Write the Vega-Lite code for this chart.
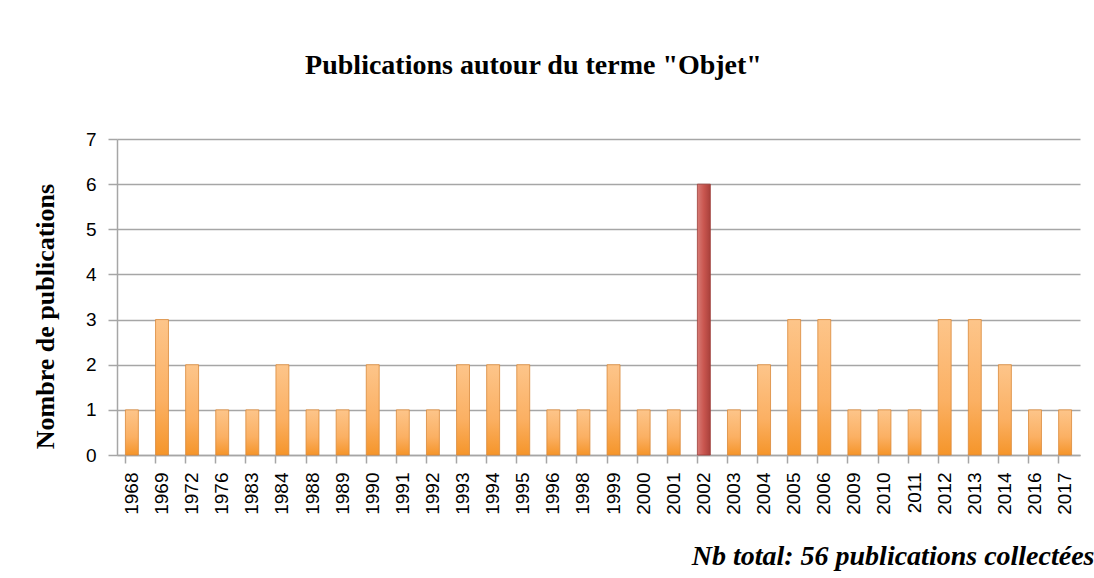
{
  "$schema": "https://vega.github.io/schema/vega-lite/v6.json",
  "width": 963,
  "height": 316,
  "autosize": {"type": "none"},
  "padding": {"left": 117, "top": 139, "right": 14, "bottom": 123},
  "background": "white",
  "title": {
    "text": "Publications autour du terme \"Objet\"",
    "font": "Liberation Serif",
    "fontSize": 28,
    "fontWeight": "bold",
    "color": "black",
    "anchor": "middle",
    "dx": -65,
    "offset": 50
  },
  "data": {
    "values": [
      {"year": "1968", "count": 1},
      {"year": "1969", "count": 3},
      {"year": "1972", "count": 2},
      {"year": "1976", "count": 1},
      {"year": "1983", "count": 1},
      {"year": "1984", "count": 2},
      {"year": "1988", "count": 1},
      {"year": "1989", "count": 1},
      {"year": "1990", "count": 2},
      {"year": "1991", "count": 1},
      {"year": "1992", "count": 1},
      {"year": "1993", "count": 2},
      {"year": "1994", "count": 2},
      {"year": "1995", "count": 2},
      {"year": "1996", "count": 1},
      {"year": "1998", "count": 1},
      {"year": "1999", "count": 2},
      {"year": "2000", "count": 1},
      {"year": "2001", "count": 1},
      {"year": "2002", "count": 6},
      {"year": "2003", "count": 1},
      {"year": "2004", "count": 2},
      {"year": "2005", "count": 3},
      {"year": "2006", "count": 3},
      {"year": "2009", "count": 1},
      {"year": "2010", "count": 1},
      {"year": "2011", "count": 1},
      {"year": "2012", "count": 3},
      {"year": "2013", "count": 3},
      {"year": "2014", "count": 2},
      {"year": "2016", "count": 1},
      {"year": "2017", "count": 1}
    ]
  },
  "mark": {"type": "bar", "strokeWidth": 0.8},
  "encoding": {
    "x": {
      "field": "year",
      "type": "ordinal",
      "sort": null,
      "scale": {"paddingInner": 0.57, "paddingOuter": 0.28},
      "axis": {
        "title": "Nb total: 56 publications collectées",
        "titleFont": "Liberation Serif",
        "titleFontSize": 28,
        "titleFontWeight": "bold",
        "titleFontStyle": "italic",
        "titleColor": "black",
        "titleAnchor": "end",
        "titleAlign": "right",
        "titleX": 977,
        "titlePadding": 28,
        "labelAngle": -90,
        "labelFont": "Liberation Sans",
        "labelFontSize": 19,
        "labelColor": "black",
        "labelPadding": 9,
        "bandPosition": 0,
        "tickColor": "#a6a6a6",
        "tickWidth": 1.5,
        "tickSize": 8,
        "domainColor": "#a6a6a6",
        "domainWidth": 1.5,
        "grid": false
      }
    },
    "y": {
      "field": "count",
      "type": "quantitative",
      "scale": {"domain": [0, 7]},
      "axis": {
        "title": "Nombre de publications",
        "titleFont": "Liberation Serif",
        "titleFontSize": 26,
        "titleFontWeight": "bold",
        "titleColor": "black",
        "titlePadding": 27,
        "titleY": 177,
        "values": [0, 1, 2, 3, 4, 5, 6, 7],
        "labelFont": "Liberation Sans",
        "labelFontSize": 19,
        "labelColor": "black",
        "labelPadding": 12,
        "tickColor": "#a6a6a6",
        "tickWidth": 1.5,
        "tickSize": 9,
        "domainColor": "#a6a6a6",
        "domainWidth": 1.5,
        "grid": true,
        "gridColor": "#a6a6a6",
        "gridWidth": 1.5
      }
    },
    "color": {
      "condition": {
        "test": "datum.year == '2002'",
        "value": {
          "gradient": "linear",
          "x1": 0, "y1": 0, "x2": 1, "y2": 0,
          "stops": [
            {"offset": 0, "color": "#d77a75"},
            {"offset": 0.5, "color": "#c9564f"},
            {"offset": 1, "color": "#a8403b"}
          ]
        }
      },
      "value": {
        "gradient": "linear",
        "x1": 0, "y1": 0, "x2": 0, "y2": 1,
        "stops": [
          {"offset": 0, "color": "#fdc58a"},
          {"offset": 0.6, "color": "#fbb063"},
          {"offset": 1, "color": "#f5952a"}
        ]
      }
    },
    "stroke": {
      "condition": {"test": "datum.year == '2002'", "value": "#9c3c37"},
      "value": "#d9893a"
    }
  },
  "config": {
    "view": {"stroke": null}
  }
}
